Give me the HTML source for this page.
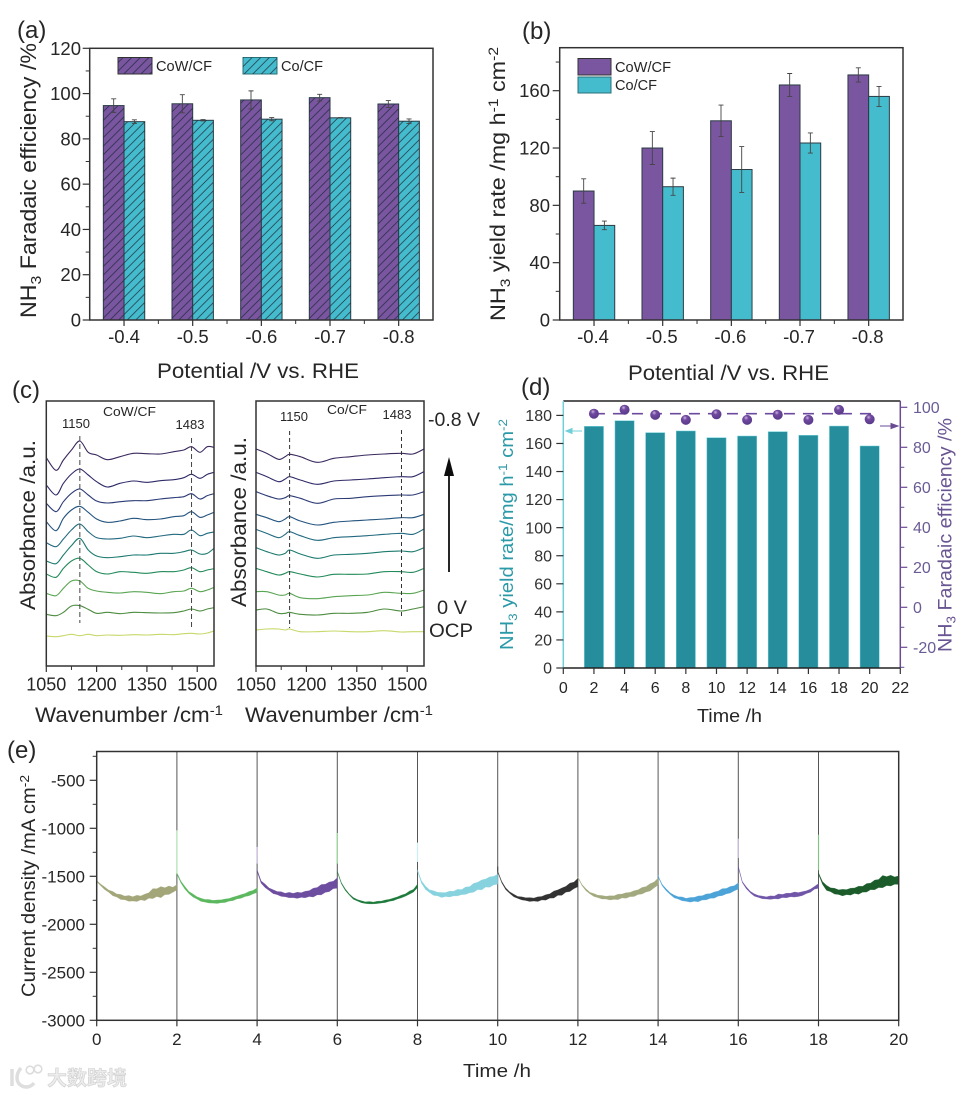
<!DOCTYPE html>
<html lang="en">
<head>
<meta charset="utf-8">
<title>CoW/CF electrochemical performance figure</title>
<style>
html,body{margin:0;padding:0;background:#fff;width:967px;height:1095px;overflow:hidden}
svg{display:block;font-family:"Liberation Sans","Noto Sans CJK SC",sans-serif}
text{fill:#262626}
</style>
</head>
<body>
<svg id="fig" xmlns="http://www.w3.org/2000/svg" width="967" height="1095" viewBox="0 0 967 1095">
<defs>
<pattern id="hatch" patternUnits="userSpaceOnUse" width="8.6" height="8.6">
<path d="M-1 1L1 -1M0 8.6L8.6 0M7.6 9.6L9.600 7.6" stroke="#1d2b3a" stroke-width=".7" fill="none"/>
</pattern>
<radialGradient id="ball" cx=".4" cy=".3" r=".75">
<stop offset="0" stop-color="#c9b6e4"/><stop offset=".3" stop-color="#71499f"/><stop offset="1" stop-color="#553888"/>
</radialGradient>
<filter id="soft" x="0" y="0" width="100%" height="100%"><feGaussianBlur stdDeviation=".35"/></filter>
</defs>
<g id="root" filter="url(#soft)">

<g id="pa">
<text x="17" y="38" font-size="24">(a)</text>
<text transform="translate(36,318) rotate(-90)" font-size="22" textLength="275" lengthAdjust="spacingAndGlyphs">NH<tspan dy="5" font-size="15">3</tspan><tspan dy="-5"> Faradaic efficiency /%</tspan></text>
<text x="157" y="378" font-size="21" textLength="202" lengthAdjust="spacingAndGlyphs">Potential /V vs. RHE</text>
<rect x="118" y="57.500" width="34" height="16.500" fill="#7a54a0" stroke="#333"/>
<rect x="118" y="57.500" width="34" height="16.500" fill="url(#hatch)"/>
<text x="156" y="71" font-size="14.500" textLength="56" lengthAdjust="spacingAndGlyphs">CoW/CF</text>
<rect x="243" y="57.500" width="34" height="16.500" fill="#45bccd" stroke="#2b6f7a"/>
<rect x="243" y="57.500" width="34" height="16.500" fill="url(#hatch)"/>
<text x="281" y="71" font-size="14.500" textLength="42" lengthAdjust="spacingAndGlyphs">Co/CF</text>
</g>

<g id="pb">
<text x="522" y="39" font-size="24">(b)</text>
<text transform="translate(505,321) rotate(-90)" font-size="21" textLength="274" lengthAdjust="spacingAndGlyphs">NH<tspan dy="5" font-size="14">3</tspan><tspan dy="-5"> yield rate /mg h</tspan><tspan dy="-7" font-size="14">-1</tspan><tspan dy="7"> cm</tspan><tspan dy="-7" font-size="14">-2</tspan></text>
<text x="628" y="380" font-size="21" textLength="201" lengthAdjust="spacingAndGlyphs">Potential /V vs. RHE</text>
<rect x="578" y="58.500" width="33" height="16.500" fill="#7a54a0" stroke="#333"/>
<text x="615" y="72" font-size="14.500" textLength="56" lengthAdjust="spacingAndGlyphs">CoW/CF</text>
<rect x="578" y="77" width="33" height="16" fill="#45bccd" stroke="#2b6f7a"/>
<text x="615" y="90" font-size="14.500" textLength="42" lengthAdjust="spacingAndGlyphs">Co/CF</text>
</g>

<g id="pc">
<text x="12" y="398" font-size="24">(c)</text>
<text transform="translate(35,610) rotate(-90)" font-size="21" textLength="170" lengthAdjust="spacingAndGlyphs">Absorbance /a.u.</text>
<text transform="translate(246,607) rotate(-90)" font-size="21" textLength="170" lengthAdjust="spacingAndGlyphs">Absorbance /a.u.</text>
<text x="35" y="722" font-size="21" textLength="188" lengthAdjust="spacingAndGlyphs">Wavenumber /cm<tspan dy="-7" font-size="14">-1</tspan></text>
<text x="245" y="722" font-size="21" textLength="188" lengthAdjust="spacingAndGlyphs">Wavenumber /cm<tspan dy="-7" font-size="14">-1</tspan></text>
<text x="76" y="428" font-size="13" text-anchor="middle">1150</text>
<text x="190" y="429" font-size="13" text-anchor="middle">1483</text>
<text x="103" y="416" font-size="13" textLength="53" lengthAdjust="spacingAndGlyphs">CoW/CF</text>
<text x="294" y="421" font-size="13" text-anchor="middle">1150</text>
<text x="397" y="419" font-size="13" text-anchor="middle">1483</text>
<text x="327" y="414" font-size="13" textLength="40" lengthAdjust="spacingAndGlyphs">Co/CF</text>
<text x="428" y="426" font-size="19" textLength="52" lengthAdjust="spacingAndGlyphs">-0.8 V</text>
<line x1="449" y1="572" x2="449" y2="470" stroke="#111" stroke-width="1.800"/>
<path d="M449 457L444 476L454 476Z" fill="#111"/>
<text x="437" y="614" font-size="19" textLength="30" lengthAdjust="spacingAndGlyphs">0 V</text>
<text x="429" y="637" font-size="19" textLength="44" lengthAdjust="spacingAndGlyphs">OCP</text>
</g>

<g id="pd">
<text x="521" y="395" font-size="24">(d)</text>
<text transform="translate(513,650) rotate(-90)" font-size="18" style="fill:#2b9aa9" textLength="231" lengthAdjust="spacingAndGlyphs"><tspan style="fill:#2b9aa9">NH</tspan><tspan dy="4" font-size="12" style="fill:#2b9aa9">3</tspan><tspan dy="-4" style="fill:#2b9aa9"> yield rate/mg h</tspan><tspan dy="-6" font-size="12" style="fill:#2b9aa9">-1</tspan><tspan dy="6" style="fill:#2b9aa9"> cm</tspan><tspan dy="-6" font-size="12" style="fill:#2b9aa9">-2</tspan></text>
<text transform="translate(951.700,652) rotate(-90)" font-size="19" textLength="234" lengthAdjust="spacingAndGlyphs"><tspan style="fill:#6b5493">NH</tspan><tspan dy="4" font-size="13" style="fill:#6b5493">3</tspan><tspan dy="-4" style="fill:#6b5493"> Faradaic efficiency /%</tspan></text>
<text x="697" y="722" font-size="18" textLength="65" lengthAdjust="spacingAndGlyphs">Time /h</text>
</g>

<g id="pe">
<text x="7" y="758" font-size="24">(e)</text>
<text transform="translate(35,997) rotate(-90)" font-size="19" textLength="222" lengthAdjust="spacingAndGlyphs">Current density /mA cm<tspan dy="-6" font-size="13">-2</tspan></text>
<text x="463" y="1077" font-size="18" textLength="68" lengthAdjust="spacingAndGlyphs">Time /h</text>
</g>

<g>
<path d="M12 1069V1086M21 1068C15 1075 16 1083 22 1086C26 1088 31 1087 34 1083" fill="none" stroke="#dedede" stroke-width="3.500"/>
<circle cx="30" cy="1070" r="3.800" fill="none" stroke="#dcdcdc" stroke-width="1.600"/>
<circle cx="38" cy="1069" r="3.800" fill="none" stroke="#dcdcdc" stroke-width="1.600"/>
<text x="47" y="1085" font-size="20" font-weight="700" textLength="80" style="fill:#ececec;stroke:#cfcfcf;stroke-width:.6;font-family:'Noto Sans CJK SC',sans-serif">大数跨境</text>
</g>
</g>
</svg>
<script>
/* ---------- panel (a) data ---------- */
const aCategories = ['-0.4','-0.5','-0.6','-0.7','-0.8'];
const aCoW = [94.7,95.5,97.2,98.2,95.4];
const aCoWErr = [3,4,4,1.5,1.5];
const aCo = [87.6,88.2,88.7,89.3,87.8];
const aCoErr = [0.8,0.3,0.7,0.1,1];
const aYTicks = [0,20,40,60,80,100,120];
const aYMinor = [10,30,50,70,90,110];

/* ---------- panel (b) data ---------- */
const bCategories = ['-0.4','-0.5','-0.6','-0.7','-0.8'];
const bCoW = [90,120,139,164,171];
const bCoWErr = [8.5,11.5,11,8,5];
const bCo = [66,93,105,123.5,156];
const bCoErr = [3,6,16,7,7];
const bYTicks = [0,40,80,120,160];
const bYMinor = [20,60,100,140,180];

/* ---------- panel (c) data ---------- */
const cTicks = [1050,1200,1350,1500];
const cMinor = [1125,1275,1425];
const cPeaks = [1150,1483];
const cColors = ['#3a2a5e','#2f2a68','#2b3a74','#24527e','#22697f','#1f7a70','#238a5a','#5aa552','#4d8c3f','#c8d86a'];
const cWaveCoW = [1050,1079,1101,1125,1150,1175,1200,1232,1270,1310,1350,1390,1430,1460,1483,1508,1530,1550];
const cCoW1 = [625,587,618,648,675,641,633,619,628,638,637,636,643,648,658,641,658,656];
const cCoW2 = [543,513,548,576,591,573,553,537,548,555,551,556,559,565,575,563,575,581];
const cCoW3 = [488,463,493,518,531,513,495,489,493,496,496,501,505,508,517,501,511,517];
const cCoW4 = [433,406,443,468,479,461,441,431,435,443,439,441,448,451,463,446,453,461];
const cCoW5 = [370,358,381,408,426,403,385,381,383,390,385,390,395,395,408,391,398,402];
const cCoW6 = [315,307,333,361,383,348,330,325,328,333,333,338,338,343,348,336,338,353];
const cCoW7 = [276,266,293,315,323,303,283,276,283,281,278,283,283,288,295,283,288,292];
const cCoW8 = [218,211,233,255,255,233,225,221,219,223,221,217,223,225,233,223,228,236];
const cCoW9 = [155,151,161,180,181,170,158,161,157,161,160,159,160,165,171,165,171,175];
const cCoW10 = [90,88,91,95,91,95,91,93,92,94,93,95,94,97,98,96,99,105];
const cWaveCo = [1050,1082,1117,1137,1150,1182,1232,1282,1332,1382,1432,1482,1517,1550];
const cCo1 = [651,638,620,628,635,628,611,623,628,633,636,638,636,651];
const cCo2 = [581,568,553,561,568,558,545,555,558,561,565,568,568,583];
const cCo3 = [523,511,501,505,511,503,488,501,503,508,511,513,513,523];
const cCo4 = [455,445,433,441,448,435,423,431,435,438,441,445,445,455];
const cCo5 = [410,398,385,395,403,391,377,385,388,391,395,398,395,411];
const cCo6 = [355,343,333,338,348,336,323,333,335,338,343,345,343,355];
const cCo7 = [293,283,273,278,283,276,267,275,275,276,283,283,281,293];
const cCo8 = [223,223,213,213,218,205,202,208,211,213,221,218,218,228];
const cCo9 = [168,171,158,158,161,155,153,158,158,161,171,165,171,178];
const cCo10 = [108,111,111,108,111,103,103,105,103,103,106,102,103,103];

/* ---------- panel (d) data ---------- */
const dTimes = [2,4,6,8,10,12,14,16,18,20];
const dYield = [172.2,176.2,167.7,168.9,164.1,165.3,168.4,165.8,172.4,158.2];
const dEfficiency = [96.8,98.8,96.2,93.7,96.5,93.7,96.3,93.7,98.7,94];
const dMeanEfficiency = [96.8,96.8];
const dMeanTimes = [2,20.5];
const dXTicks = [0,2,4,6,8,10,12,14,16,18,20,22];
const dYTicks = [0,20,40,60,80,100,120,140,160,180];
const dRTicks = [-20,0,20,40,60,80,100];
const dRMinor = [-30,-10,10,30,50,70,90];

/* ---------- panel (e) data ---------- */
const eXTicks = [0,2,4,6,8,10,12,14,16,18,20];
const eYTicks = [-500,-1000,-1500,-2000,-2500,-3000];
const eYMinor = [-250,-750,-1250,-1750,-2250,-2750];
const eColors = ['#a3a679','#5cb85f','#6d4ea0','#1e7a3a','#86d2de','#333333','#a3a97e','#4ba3d8','#6f55a8','#1a5c2a'];
const eSpikeColors = ['#ffffff','#b7eebb','#cbb8e0','#9de39f','#c9f0f5','#444444','#a3a97e','#4ba3d8','#cfc2e3','#7cc47f'];
const eRunStart = [0,2,4,6,8,10,12,14,16,18];
const eSpikeTop = [-1530,-1021,-1194,-1049,-1149,-1400,-1507,-1490,-1108,-1066];
const eSpikeEnd = [-1550,-1472,-1368,-1368,-1350,-1450,-1510,-1500,-1309,-1437];
const eRun1 = [-1550,-1590,-1625,-1655,-1680,-1700,-1715,-1725,-1730,-1735,-1730,-1725,-1720,-1700,-1680,-1670,-1665,-1655,-1645,-1640,-1615];
const eRun2 = [-1470,-1560,-1620,-1670,-1700,-1725,-1745,-1755,-1760,-1765,-1765,-1760,-1755,-1745,-1735,-1720,-1710,-1695,-1680,-1665,-1645];
const eRun3 = [-1440,-1560,-1600,-1635,-1660,-1675,-1685,-1695,-1695,-1700,-1698,-1695,-1690,-1680,-1670,-1655,-1640,-1625,-1610,-1590,-1570];
const eRun4 = [-1450,-1570,-1640,-1690,-1730,-1750,-1765,-1775,-1775,-1778,-1772,-1768,-1760,-1750,-1740,-1725,-1710,-1695,-1670,-1650,-1600];
const eRun5 = [-1440,-1560,-1620,-1655,-1675,-1685,-1695,-1690,-1685,-1680,-1670,-1665,-1650,-1640,-1620,-1600,-1590,-1570,-1560,-1545,-1530];
const eRun6 = [-1450,-1560,-1630,-1670,-1700,-1720,-1730,-1738,-1742,-1742,-1738,-1728,-1720,-1705,-1690,-1670,-1660,-1635,-1615,-1595,-1565];
const eRun7 = [-1510,-1590,-1640,-1675,-1695,-1710,-1718,-1722,-1725,-1722,-1715,-1705,-1700,-1690,-1680,-1665,-1650,-1635,-1615,-1590,-1555];
const eRun8 = [-1500,-1590,-1640,-1680,-1710,-1725,-1735,-1745,-1745,-1740,-1735,-1725,-1715,-1705,-1695,-1680,-1665,-1655,-1640,-1625,-1600];
const eRun9 = [-1400,-1560,-1620,-1665,-1695,-1710,-1720,-1725,-1722,-1720,-1710,-1705,-1700,-1695,-1690,-1690,-1680,-1665,-1650,-1620,-1600];
const eRun10 = [-1470,-1570,-1620,-1640,-1655,-1665,-1670,-1665,-1660,-1650,-1645,-1635,-1620,-1605,-1590,-1575,-1555,-1550,-1545,-1545,-1540];
const eSpread1 = [5,9,14,11,22,16,26,19,30,22,32,20,34,28,52,40,58,36,44,26,28];
const eSpread2 = [8,10,14,11,16,12,16,14,18,14,18,15,18,14,18,15,19,16,22,18,24];
const eSpread3 = [10,12,18,13,20,16,24,18,28,22,32,24,34,30,46,38,54,42,50,38,54];
const eSpread4 = [5,6,8,6,9,7,10,8,12,9,12,10,13,10,13,11,14,12,16,14,18];
const eSpread5 = [8,12,18,14,24,18,26,20,30,24,34,26,38,32,46,38,52,42,54,44,52];
const eSpread6 = [5,7,9,8,13,10,16,14,20,15,24,18,28,22,36,28,38,30,44,34,44];
const eSpread7 = [4,6,10,8,15,12,18,14,22,18,28,20,28,22,30,24,34,28,38,30,36];
const eSpread8 = [5,7,10,8,14,12,20,15,24,20,30,22,30,24,32,26,36,28,34,26,32];
const eSpread9 = [7,6,10,8,12,10,14,11,18,14,26,16,24,18,26,20,20,14,16,14,24];
const eSpread10 = [7,14,26,20,30,24,34,26,36,28,42,30,44,34,50,42,64,46,56,38,44];

/* ---------- helpers ---------- */
const NS = 'http://www.w3.org/2000/svg';
function mk(parent, tag, attrs, text) {
  const node = document.createElementNS(NS, tag);
  for (const k in attrs) node.setAttribute(k, attrs[k]);
  if (text !== undefined) node.textContent = text;
  parent.appendChild(node);
  return node;
}
function linear(d0, d1, r0, r1) {
  return function (v) { return r0 + (v - d0) * (r1 - r0) / (d1 - d0); };
}
function drawYAxis(g, y, o) {
  o.majors.forEach(function (v) {
    const tick = mk(g, 'line', {x1:o.x, x2:o.x + o.dir * 7, y1:y(v), y2:y(v), stroke:o.tickColor || '#333', 'stroke-width':1.2});
    
    
    const lab = mk(g, 'text', {x:o.labelX, y:y(v) + o.fs * 0.35, 'font-size':o.fs, 'text-anchor':o.anchor, style:'fill:' + (o.color || '#262626')}, String(v));
    
    
  });
  (o.minors || []).forEach(function (v) {
    const tick = mk(g, 'line', {x1:o.x, x2:o.x + o.dir * 4, y1:y(v), y2:y(v), stroke:o.tickColor || '#333', 'stroke-width':1});
    
    
  });
}
function drawXAxis(g, x, o) {
  o.majors.forEach(function (v, i) {
    const tick = mk(g, 'line', {x1:x(v), x2:x(v), y1:o.y, y2:o.y + 6, stroke:'#333', 'stroke-width':1.2});
    
    
    const lab = mk(g, 'text', {x:x(v) + (o.labelDx || 0), y:o.labelY, 'font-size':o.fs, 'text-anchor':'middle'}, o.labels ? o.labels[i] : String(v));
    
    
  });
  (o.minors || []).forEach(function (v) {
    const tick = mk(g, 'line', {x1:x(v), x2:x(v), y1:o.y, y2:o.y + 4, stroke:'#333', 'stroke-width':1});
    
    
  });
}
function drawFrame(g, x0, y0, x1, y1) {
  const frame = mk(g, 'rect', {x:x0, y:y0, width:x1 - x0, height:y1 - y0, fill:'none', stroke:'#333', 'stroke-width':1.5});
  
  
}
function drawBars(g, x, y, values, errs, side, fill, hatched, name) {
  const w = 20.7;
  values.forEach(function (v, i) {
    const left = side < 0 ? x(i) - w : x(i);
    const bar = mk(g, 'rect', {x:left, y:y(v), width:w, height:y(0) - y(v), fill:fill, stroke:'#2c3b44', 'stroke-width':1});
    
    
    if (hatched) {
      const h = mk(g, 'rect', {x:left, y:y(v), width:w, height:y(0) - y(v), fill:'url(#hatch)'});
      
      
    }
    const cx = left + w / 2;
    const d = 'M' + cx + ' ' + y(v + errs[i]) + 'V' + y(v - errs[i]) +
      'M' + (cx - 2.5) + ' ' + y(v + errs[i]) + 'H' + (cx + 2.5) +
      'M' + (cx - 2.5) + ' ' + y(v - errs[i]) + 'H' + (cx + 2.5);
    const err = mk(g, 'path', {d:d, stroke:'#444', 'stroke-width':0.9, fill:'none'});
    
    
  });
}
function smoothPath(pts) {
  let d = 'M' + pts[0][0].toFixed(2) + ' ' + pts[0][1].toFixed(2);
  for (let i = 0; i < pts.length - 1; i++) {
    const p0 = pts[Math.max(i - 1, 0)], p1 = pts[i], p2 = pts[i + 1], p3 = pts[Math.min(i + 2, pts.length - 1)];
    d += 'C' + (p1[0] + (p2[0] - p0[0]) / 6).toFixed(2) + ' ' + (p1[1] + (p2[1] - p0[1]) / 6).toFixed(2) + ' ' +
      (p2[0] - (p3[0] - p1[0]) / 6).toFixed(2) + ' ' + (p2[1] - (p3[1] - p1[1]) / 6).toFixed(2) + ' ' +
      p2[0].toFixed(2) + ' ' + p2[1].toFixed(2);
  }
  return d;
}

/* ---------- panel (a) ---------- */
(function () {
  const g = document.getElementById('pa');
  const x = linear(-0.5, 4.5, 89.7, 433);
  const y = linear(0, 120, 320, 48.3);
  const xi = aCategories.map(function (_, i) { return i; });
  drawBars(g, x, y, aCoW, aCoWErr, -1, '#7a54a0', true, 'cow');
  drawBars(g, x, y, aCo, aCoErr, 1, '#45bccd', true, 'co');
  drawFrame(g, 89.7, 48.3, 433, 320);
  drawYAxis(g, y, {x:89.7, dir:-1, majors:aYTicks, minors:aYMinor, labelX:81, anchor:'end', fs:18.5});
  drawXAxis(g, x, {y:320, majors:xi, minors:[0.5,1.5,2.5,3.5], labels:aCategories, labelY:343, fs:18.5, labelDx:0});
})();

/* ---------- panel (b) ---------- */
(function () {
  const g = document.getElementById('pb');
  const x = linear(-0.5, 4.5, 559.7, 903);
  const y = linear(0, 190, 320, 47.7);
  const xi = bCategories.map(function (_, i) { return i; });
  drawBars(g, x, y, bCoW, bCoWErr, -1, '#7a54a0', false, 'cow');
  drawBars(g, x, y, bCo, bCoErr, 1, '#45bccd', false, 'co');
  drawFrame(g, 559.7, 47.7, 903, 320);
  drawYAxis(g, y, {x:559.7, dir:-1, majors:bYTicks, minors:bYMinor, labelX:550, anchor:'end', fs:18.5});
  drawXAxis(g, x, {y:320, majors:xi, minors:[0.5,1.5,2.5,3.5], labels:bCategories, labelY:343, fs:18.5, labelDx:-1});
})();

/* ---------- panel (c) ---------- */
(function () {
  const g = document.getElementById('pc');
  const y = linear(0, 795, 666, 401);
  const x1 = linear(1050, 1550, 46.3, 214);
  const x2 = linear(1050, 1550, 256, 424);
  const left = [cCoW1,cCoW2,cCoW3,cCoW4,cCoW5,cCoW6,cCoW7,cCoW8,cCoW9,cCoW10];
  const right = [cCo1,cCo2,cCo3,cCo4,cCo5,cCo6,cCo7,cCo8,cCo9,cCo10];
  left.forEach(function (vals, k) {
    const pts = vals.map(function (v, i) { return [x1(cWaveCoW[i]), y(v)]; });
    const p = mk(g, 'path', {d:smoothPath(pts), fill:'none', stroke:cColors[k], 'stroke-width':1.1});
    
    
  });
  right.forEach(function (vals, k) {
    const pts = vals.map(function (v, i) { return [x2(cWaveCo[i]), y(v)]; });
    const p = mk(g, 'path', {d:smoothPath(pts), fill:'none', stroke:cColors[k], 'stroke-width':1.1});
    
    
  });
  const dashL = mk(g, 'line', {x1:x1(cPeaks[0]), x2:x1(cPeaks[0]), y1:436, y2:623, stroke:'#444', 'stroke-width':1, 'stroke-dasharray':'5 3'});
  
  
  const dashL2 = mk(g, 'line', {x1:x1(cPeaks[1]), x2:x1(cPeaks[1]), y1:438, y2:627, stroke:'#444', 'stroke-width':1, 'stroke-dasharray':'5 3'});
  
  
  const dashR = mk(g, 'line', {x1:x2(cPeaks[0]), x2:x2(cPeaks[0]), y1:431, y2:628, stroke:'#333', 'stroke-width':1, 'stroke-dasharray':'4 3'});
  
  
  const dashR2 = mk(g, 'line', {x1:x2(cPeaks[1]), x2:x2(cPeaks[1]), y1:430, y2:618, stroke:'#333', 'stroke-width':1, 'stroke-dasharray':'4 3'});
  
  
  drawFrame(g, 46.3, 401, 214, 666);
  drawFrame(g, 256, 401, 424, 666);
  drawXAxis(g, x1, {y:666, majors:cTicks, minors:cMinor, labelY:690.7, fs:18});
  drawXAxis(g, x2, {y:666, majors:cTicks, minors:cMinor, labelY:690.7, fs:18});
})();

/* ---------- panel (d) ---------- */
(function () {
  const g = document.getElementById('pd');
  const x = linear(0, 22, 563.3, 900.3);
  const yL = linear(0, 180, 668, 415.4);
  const yR = linear(0, 100, 607.3, 407.3);
  dYield.forEach(function (v, i) {
    const bar = mk(g, 'rect', {x:x(dTimes[i]) - 9.6, y:yL(v), width:19.2, height:yL(0) - yL(v), fill:'#268d9c', stroke:'#6fcfd8', 'stroke-width':0.5});
    
    
  });
  const mean = mk(g, 'line', {x1:x(dMeanTimes[0]), x2:x(dMeanTimes[1]), y1:yR(dMeanEfficiency[0]), y2:yR(dMeanEfficiency[1]), stroke:'#6b4a9e', 'stroke-width':1.6, 'stroke-dasharray':'11 8'});
  
  
  dEfficiency.forEach(function (v, i) {
    const c = mk(g, 'circle', {cx:x(dTimes[i]), cy:yR(v), r:5, fill:'url(#ball)'});
    
    
  });
  const top = mk(g, 'line', {x1:563.3, x2:900.3, y1:401, y2:401, stroke:'#222', 'stroke-width':1.5});
  
  
  const leftSpine = mk(g, 'line', {x1:563.3, x2:563.3, y1:401, y2:668, stroke:'#6fcfd8', 'stroke-width':1.5});
  
  
  const rightSpine = mk(g, 'line', {x1:900.3, x2:900.3, y1:401, y2:668, stroke:'#6a4c93', 'stroke-width':1.5});
  
  
  const bottom = mk(g, 'line', {x1:563.3, x2:900.3, y1:668, y2:668, stroke:'#222', 'stroke-width':1.5});
  
  
  drawYAxis(g, yL, {x:563.3, dir:-1, majors:dYTicks, labelX:552, anchor:'end', fs:16, color:'#333'});
  drawYAxis(g, yR, {x:900.3, dir:1, majors:dRTicks, minors:dRMinor, labelX:913, anchor:'start', fs:16, color:'#6b5b95', tickColor:'#6a4c93'});
  drawXAxis(g, x, {y:668, majors:dXTicks, labelY:693, fs:16});
  const la = mk(g, 'path', {d:'M582 431H571M572 428.500L566 431L572 433.500Z', stroke:'#6fcfd8', fill:'#6fcfd8', 'stroke-width':1});
  
  
  const ra = mk(g, 'path', {d:'M880 426H892M891 423.500L898 426L891 428.500Z', stroke:'#6a4c93', fill:'#6a4c93', 'stroke-width':1});
  
  
})();

/* ---------- panel (e) ---------- */
(function () {
  const g = document.getElementById('pe');
  const x = linear(0, 20, 96.7, 898.7);
  const y = linear(-3000, -200, 1020.3, 751.5);
  const runs = [eRun1,eRun2,eRun3,eRun4,eRun5,eRun6,eRun7,eRun8,eRun9,eRun10];
  const spreads = [eSpread1,eSpread2,eSpread3,eSpread4,eSpread5,eSpread6,eSpread7,eSpread8,eSpread9,eSpread10];
  eXTicks.slice(1, -1).forEach(function (t) {
    const v = mk(g, 'line', {x1:x(t), x2:x(t), y1:751.5, y2:1020.3, stroke:'#555', 'stroke-width':1});
    
    
  });
  runs.forEach(function (vals, k) {
    const t0 = eRunStart[k];
    const upper = vals.map(function (v, i) { return x(t0 + i * 0.1).toFixed(2) + ',' + y(v + spreads[k][i]).toFixed(2); });
    const lower = vals.map(function (v, i) { return x(t0 + i * 0.1).toFixed(2) + ',' + y(v - spreads[k][i]).toFixed(2); }).reverse();
    const band = mk(g, 'polygon', {points:upper.concat(lower).join(' '), fill:eColors[k], stroke:eColors[k], 'stroke-width':0.3});
    
    
    const spike = mk(g, 'line', {x1:x(t0), x2:x(t0), y1:y(eSpikeTop[k]), y2:y(eSpikeEnd[k]), stroke:eSpikeColors[k], 'stroke-width':1.1});
    
    
  });
  drawFrame(g, 96.7, 751.5, 898.7, 1020.3);
  drawYAxis(g, y, {x:96.7, dir:-1, majors:eYTicks, minors:eYMinor, labelX:85, anchor:'end', fs:17});
  drawXAxis(g, x, {y:1020.3, majors:eXTicks, labelY:1045, fs:17});
})();
</script>
</body>
</html>
